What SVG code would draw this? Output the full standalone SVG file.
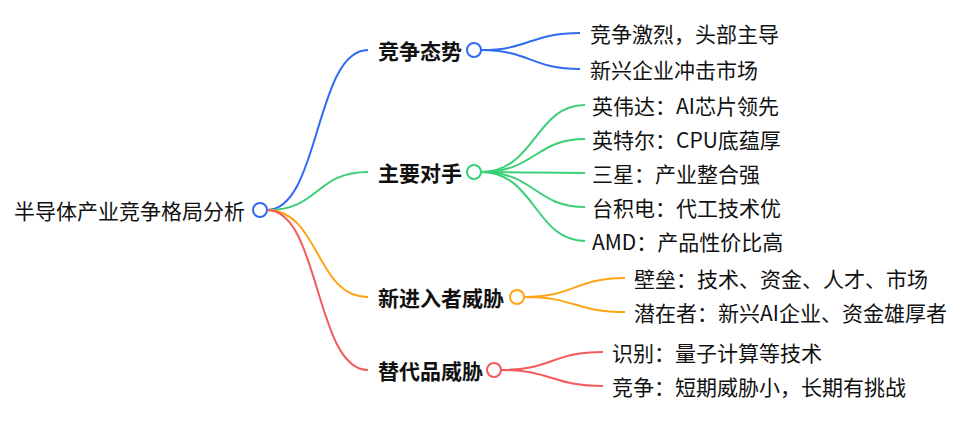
<svg xmlns="http://www.w3.org/2000/svg" width="960" height="422" viewBox="0 0 960 422">
<style>
text{font-family:"Noto Sans CJK SC","Noto Sans",sans-serif;font-size:21px;fill:#111;dominant-baseline:central}
.b{font-weight:bold}
path{fill:none;stroke-width:2}
circle{fill:#fff;stroke-width:2}
.bl{stroke:#2F6BF3}.gr{stroke:#3CCF78}.or{stroke:#FFA515}.rd{stroke:#F55A5A}
</style>
<rect width="960" height="422" fill="#fff"/>
<g id="connectors">
<path class="bl" d="M267,210 C320,210 315,50 368,50"/>
<path class="gr" d="M267,210 C320,210 315,172 368,172"/>
<path class="or" d="M267,210 C320,210 315,297 368,297"/>
<path class="rd" d="M267,210 C320,210 315,370 368,370"/>
<path class="bl" d="M481,50 C530,50 530,33 580,33"/>
<path class="bl" d="M481,50 C530,50 530,69 580,69"/>
<path class="gr" d="M481,172 C535,172 535,105 585,105"/>
<path class="gr" d="M481,172 C535,172 535,139 585,139"/>
<path class="gr" d="M481,172 C535,172 535,173 585,173"/>
<path class="gr" d="M481,172 C535,172 535,207 585,207"/>
<path class="gr" d="M481,172 C535,172 535,241 585,241"/>
<path class="or" d="M524,297 C575,297 575,278 625,278"/>
<path class="or" d="M524,297 C575,297 575,312 625,312"/>
<path class="rd" d="M501,370 C552,370 552,352 603,352"/>
<path class="rd" d="M501,370 C552,370 552,386 603,386"/>
</g>
<g id="root"><text x="14" y="210">半导体产业竞争格局分析</text><circle class="bl" cx="260" cy="210" r="7"/></g>
<g id="n1"><text class="b" x="378" y="50">竞争态势</text><circle class="bl" cx="474" cy="50" r="7"/></g>
<g id="n2"><text class="b" x="378" y="172">主要对手</text><circle class="gr" cx="474" cy="172" r="7"/></g>
<g id="n3"><text class="b" x="378" y="297">新进入者威胁</text><circle class="or" cx="517" cy="297" r="7"/></g>
<g id="n4"><text class="b" x="378" y="370">替代品威胁</text><circle class="rd" cx="494" cy="370" r="7"/></g>
<g id="l1"><text x="590" y="33">竞争激烈，头部主导</text></g>
<g id="l2"><text x="590" y="69">新兴企业冲击市场</text></g>
<g id="l3"><text x="592" y="105">英伟达：AI芯片领先</text></g>
<g id="l4"><text x="592" y="139">英特尔：CPU底蕴厚</text></g>
<g id="l5"><text x="592" y="173">三星：产业整合强</text></g>
<g id="l6"><text x="592" y="207">台积电：代工技术优</text></g>
<g id="l7"><text x="592" y="241">AMD：产品性价比高</text></g>
<g id="l8"><text x="634" y="278">壁垒：技术、资金、人才、市场</text></g>
<g id="l9"><text x="634" y="312">潜在者：新兴AI企业、资金雄厚者</text></g>
<g id="l10"><text x="612" y="352">识别：量子计算等技术</text></g>
<g id="l11"><text x="612" y="386">竞争：短期威胁小，长期有挑战</text></g>
</svg>
